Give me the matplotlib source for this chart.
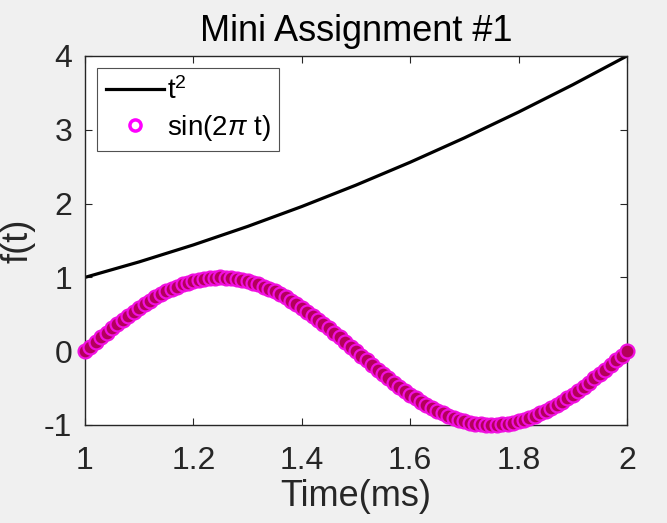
import matplotlib
matplotlib.use('Agg')
import matplotlib.pyplot as plt

plt.rcParams['font.family'] = ['Liberation Sans', 'DejaVu Sans']
plt.rcParams['mathtext.fontset'] = 'custom'
plt.rcParams['mathtext.rm'] = 'Liberation Sans'
plt.rcParams['mathtext.it'] = 'Liberation Sans:italic'
plt.rcParams['axes.unicode_minus'] = False

# t^2 curve
t_line = [1.0, 1.1, 1.2, 1.3, 1.4, 1.5, 1.6, 1.7, 1.8, 1.9, 2.0]
t_sq = [1.00, 1.21, 1.44, 1.69, 1.96, 2.25, 2.56, 2.89, 3.24, 3.61, 4.00]

# sin(2 pi t) samples, step 0.01
t = [1.00, 1.01, 1.02, 1.03, 1.04, 1.05, 1.06, 1.07, 1.08, 1.09,
     1.10, 1.11, 1.12, 1.13, 1.14, 1.15, 1.16, 1.17, 1.18, 1.19,
     1.20, 1.21, 1.22, 1.23, 1.24, 1.25, 1.26, 1.27, 1.28, 1.29,
     1.30, 1.31, 1.32, 1.33, 1.34, 1.35, 1.36, 1.37, 1.38, 1.39,
     1.40, 1.41, 1.42, 1.43, 1.44, 1.45, 1.46, 1.47, 1.48, 1.49,
     1.50, 1.51, 1.52, 1.53, 1.54, 1.55, 1.56, 1.57, 1.58, 1.59,
     1.60, 1.61, 1.62, 1.63, 1.64, 1.65, 1.66, 1.67, 1.68, 1.69,
     1.70, 1.71, 1.72, 1.73, 1.74, 1.75, 1.76, 1.77, 1.78, 1.79,
     1.80, 1.81, 1.82, 1.83, 1.84, 1.85, 1.86, 1.87, 1.88, 1.89,
     1.90, 1.91, 1.92, 1.93, 1.94, 1.95, 1.96, 1.97, 1.98, 1.99,
     2.00]
s = [0.000, 0.063, 0.125, 0.187, 0.249, 0.309, 0.368, 0.426, 0.482, 0.536,
     0.588, 0.637, 0.685, 0.729, 0.771, 0.809, 0.844, 0.876, 0.905, 0.930,
     0.951, 0.969, 0.982, 0.992, 0.998, 1.000, 0.998, 0.992, 0.982, 0.969,
     0.951, 0.930, 0.905, 0.876, 0.844, 0.809, 0.771, 0.729, 0.685, 0.637,
     0.588, 0.536, 0.482, 0.426, 0.368, 0.309, 0.249, 0.187, 0.125, 0.063,
     0.000, -0.063, -0.125, -0.187, -0.249, -0.309, -0.368, -0.426, -0.482, -0.536,
     -0.588, -0.637, -0.685, -0.729, -0.771, -0.809, -0.844, -0.876, -0.905, -0.930,
     -0.951, -0.969, -0.982, -0.992, -0.998, -1.000, -0.998, -0.992, -0.982, -0.969,
     -0.951, -0.930, -0.905, -0.876, -0.844, -0.809, -0.771, -0.729, -0.685, -0.637,
     -0.588, -0.536, -0.482, -0.426, -0.368, -0.309, -0.249, -0.187, -0.125, -0.063,
     0.000]

xticks = [1, 1.2, 1.4, 1.6, 1.8, 2]
xticklabels = ['1', '1.2', '1.4', '1.6', '1.8', '2']
yticks = [-1, 0, 1, 2, 3, 4]

fig = plt.figure(figsize=(6.67, 5.23), dpi=100)
fig.patch.set_facecolor('#f0f0f0')
ax = fig.add_axes([0.1274, 0.1874, 0.8126, 0.7056])

ax.plot(t_line, t_sq, color='black', linewidth=2.3, label='t$^2$')
ax.plot(t, s, linestyle='none', marker='o', markersize=10, markeredgewidth=1.6,
        markeredgecolor='#f010e0', markerfacecolor='#b4005a', label=r'sin(2$\pi$ t)',
        clip_on=False, zorder=3)

ax.set_xlim(1, 2)
ax.set_ylim(-1, 4)
ax.set_xticks(xticks)
ax.set_xticklabels(xticklabels)
ax.set_yticks(yticks)
ax.tick_params(axis='both', direction='in', top=True, right=True, labelsize=23,
               length=5, width=0.8, colors='#262626')
ax.tick_params(axis='x', pad=15)
ax.tick_params(axis='y', pad=9)
for sp in ax.spines.values():
    sp.set_linewidth(1.0)
    sp.set_color('#262626')

ax.set_title('Mini Assignment #1', fontsize=26, pad=11, color='black')
ax.set_xlabel('Time(ms)', fontsize=26, labelpad=2, color='#262626')
ax.set_ylabel('f(t)', fontsize=26, labelpad=6, color='#262626')

leg = ax.legend(loc='upper left', fontsize=20, frameon=True, fancybox=False,
                edgecolor='#262626', borderpad=0.3, handlelength=2.1,
                handletextpad=0.1, labelspacing=0.3, borderaxespad=0.45)
leg.get_frame().set_linewidth(0.8)
leg.legend_handles[1].set_markerfacecolor('white')
leg.legend_handles[1].set_markeredgecolor('#ff00ff')
leg.legend_handles[1].set_markersize(8)
leg.legend_handles[1].set_markeredgewidth(2.5)

fig.savefig('out.png', dpi=100, facecolor=fig.get_facecolor())
